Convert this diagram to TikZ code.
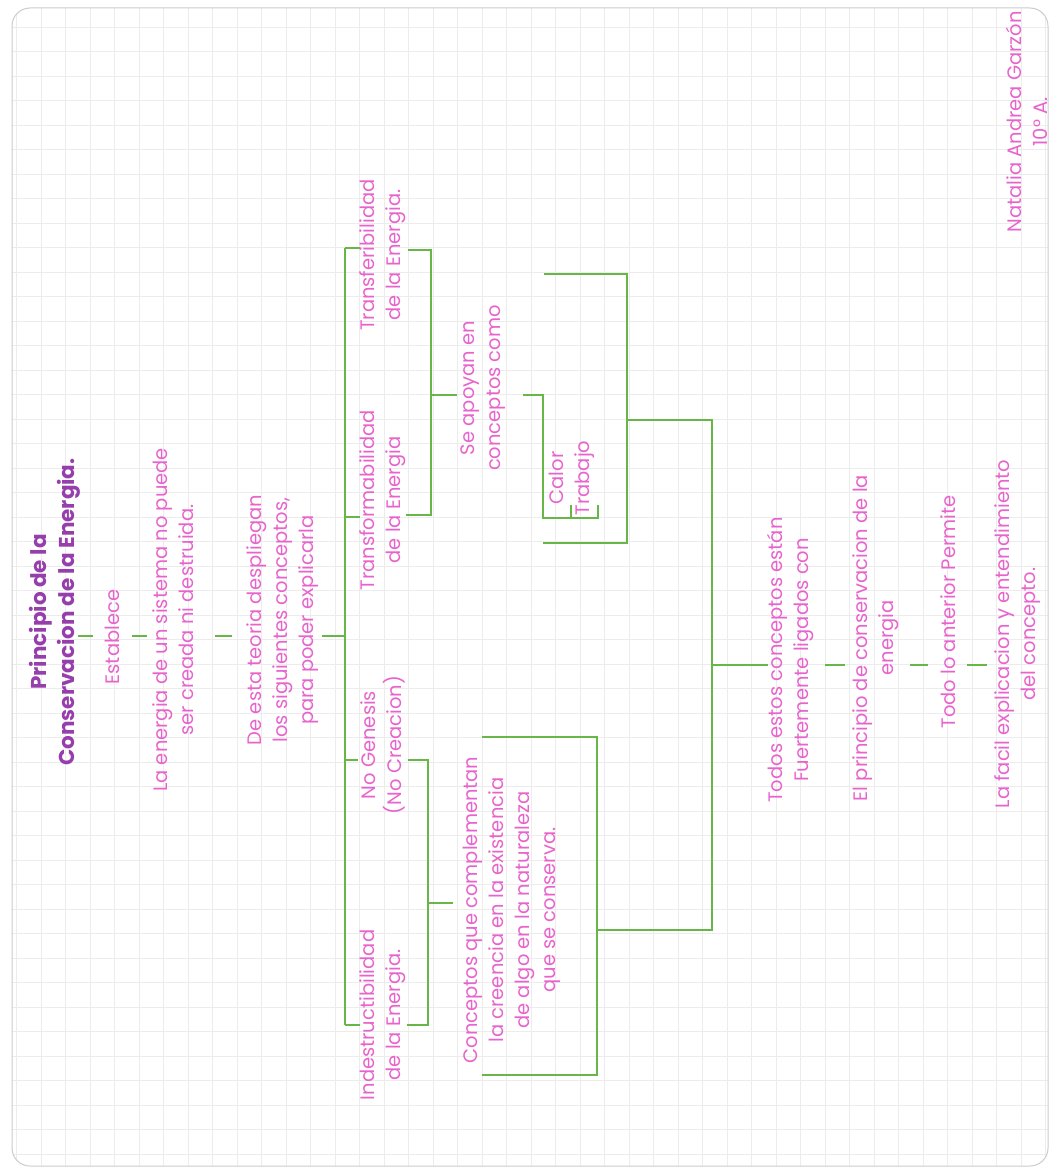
\documentclass[tikz,border=0pt]{standalone}
\usepackage{fontspec}
\setmainfont{Poppins}
\definecolor{ink}{RGB}{232,100,205}
\definecolor{ttlc}{RGB}{150,62,172}
\definecolor{pen}{RGB}{104,182,72}
\definecolor{gridc}{RGB}{236,236,236}
\begin{document}
\begin{tikzpicture}[x=1pt,y=-1pt,
  txt/.style={text=ink, rotate=90, align=center, inner sep=0pt, font=\fontsize{19.5}{26}\selectfont},
  ttl/.style={text=ttlc, rotate=90, align=center, inner sep=0pt, font=\bfseries\fontsize{21.5}{28}\selectfont},
  gline/.style={draw=pen, line width=2.8pt, line join=miter},
  gtick/.style={draw=pen, line width=2.8pt},
  gridline/.style={draw=gridc, line width=0.6pt}]
\useasboundingbox (0,0) rectangle (1057,1172);
\fill[white] (0,0) rectangle (1057,1172);
% paper grid
\begin{scope}
\clip[rounded corners=18pt] (12,8) rectangle (1048,1166);
\foreach \i in {0,...,42} \draw[gridline] ({16.5+24.5*\i},8) -- ({16.5+24.5*\i},1166);
\foreach \j in {0,...,47} \draw[gridline] (12,{2.5+24.5*\j}) -- (1048,{2.5+24.5*\j});
\end{scope}
\draw[gray!40, line width=1pt, rounded corners=18pt] (12,8) rectangle (1048,1166);

% texts
\node[ttl] (title) at (55,612) {Principio de la\\Conservacion de la Energia.};
\node[txt] (establece) at (112,637) {Establece};
\node[txt] (energia) at (173,620) {La energia de un sistema no puede\\ser creada ni destruida.};
\node[txt] (teoria) at (283,620) {De esta teoria despliegan\\los siguientes conceptos,\\para poder explicarla};
\node[txt] (transf) at (383,255) {Transferibilidad\\de la Energia.};
\node[txt] (transfor) at (383,500) {Transformabilidad\\de la Energia};
\node[txt] (genesis) at (383,745) {No Genesis\\(No Creacion)};
\node[txt] (indes) at (383,1015) {Indestructibilidad\\de la Energia.};
\node[txt] (apoyan) at (483,388) {Se apoyan en\\conceptos como};
\node[txt] (calor) at (572,478) {Calor\\Trabajo};
\node[txt] (complem) at (512,910) {Conceptos que complementan\\la creencia en la existencia\\de algo en la naturaleza\\que se conserva.};
\node[txt] (todos) at (790,660) {Todos estos conceptos están\\Fuertemente ligados con};
\node[txt] (principio) at (876,638) {El principio de conservacion de la\\energia};
\node[txt] (permite) at (948,612) {Todo lo anterior Permite};
\node[txt] (facil) at (1018,634) {La facil explicacion y entendimiento\\del concepto.};
\node[txt] (autor) at (1027,122) {Natalia Andrea Garzón\\10° A.};

% coordinates
\coordinate (t1a) at (78,636);  \coordinate (t1b) at (93,636);
\coordinate (t2a) at (132,636); \coordinate (t2b) at (147,636);
\coordinate (t3a) at (215,636); \coordinate (t3b) at (232,636);
\coordinate (ca) at (322,636);  \coordinate (cb) at (345,636);
\coordinate (vtop) at (345,248); \coordinate (vbot) at (345,1025);
\coordinate (s1) at (360,248); \coordinate (v2) at (345,517); \coordinate (s2) at (360,517);
\coordinate (v3) at (345,760); \coordinate (s3) at (358,760); \coordinate (s4) at (360,1025);
% bracket A
\coordinate (a1) at (408,250); \coordinate (a2) at (431,250); \coordinate (a3) at (431,515); \coordinate (a4) at (406,515);
\coordinate (am) at (431,395); \coordinate (an) at (457,395);
% calor/trabajo bracket
\coordinate (c1) at (523,395); \coordinate (c2) at (543,395); \coordinate (c3) at (543,518); \coordinate (c4) at (598,518);
\coordinate (k1) at (571,518); \coordinate (k1u) at (571,505); \coordinate (k2u) at (598,505);
% bracket C
\coordinate (b1) at (544,274); \coordinate (b2) at (627,274); \coordinate (b3) at (627,543); \coordinate (b4) at (543,543);
\coordinate (bm) at (627,420); \coordinate (r1) at (712,420); \coordinate (r2) at (712,930); \coordinate (r3) at (597,930);
\coordinate (rm) at (712,665); \coordinate (rn) at (768,665);
% right ticks
\coordinate (u1a) at (825,665); \coordinate (u1b) at (845,665);
\coordinate (u2a) at (910,665); \coordinate (u2b) at (928,665);
\coordinate (u3a) at (967,665); \coordinate (u3b) at (987,665);
% bracket B
\coordinate (d1) at (408,760); \coordinate (d2) at (428,760); \coordinate (d3) at (428,1025); \coordinate (d4) at (407,1025);
\coordinate (dm) at (428,903); \coordinate (dn) at (453,903);
% bracket D
\coordinate (e1) at (482,737); \coordinate (e2) at (597,737); \coordinate (e3) at (597,1075); \coordinate (e4) at (482,1075);

% connectors
\draw[gtick] (t1a) -- (t1b);
\draw[gtick] (t2a) -- (t2b);
\draw[gtick] (t3a) -- (t3b);
\draw[gline] (ca) -- (cb);
\draw[gline] (vtop) -- (vbot);
\draw[gline] (vtop) -- (s1);
\draw[gline] (v2) -- (s2);
\draw[gline] (v3) -- (s3);
\draw[gline] (vbot) -- (s4);
\draw[gline] (a1) -- (a2) -- (a3) -- (a4);
\draw[gline] (am) -- (an);
\draw[gline] (c1) -- (c2) -- (c3) -- (c4) -- (k2u);
\draw[gline] (k1) -- (k1u);
\draw[gline] (b1) -- (b2) -- (b3) -- (b4);
\draw[gline] (bm) -- (r1) -- (r2) -- (r3);
\draw[gline] (rm) -- (rn);
\draw[gtick] (u1a) -- (u1b);
\draw[gtick] (u2a) -- (u2b);
\draw[gtick] (u3a) -- (u3b);
\draw[gline] (d1) -- (d2) -- (d3) -- (d4);
\draw[gline] (dm) -- (dn);
\draw[gline] (e1) -- (e2) -- (e3) -- (e4);
\end{tikzpicture}
\end{document}
